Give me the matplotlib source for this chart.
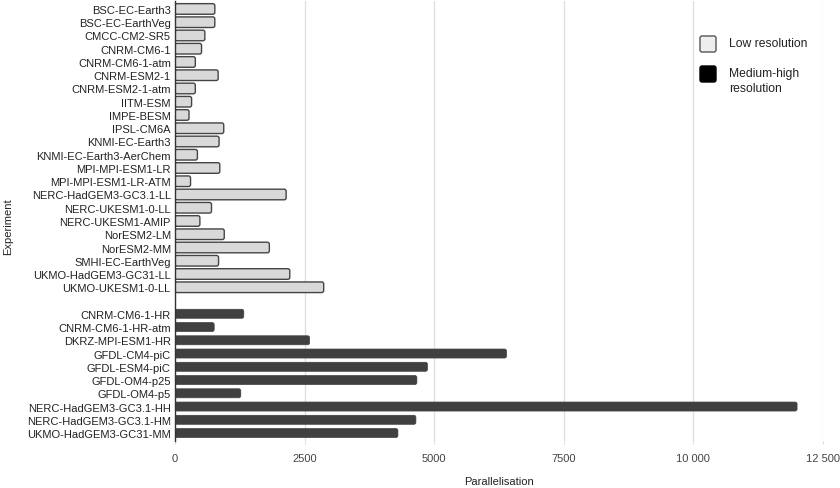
import matplotlib
matplotlib.use("Agg")
import matplotlib.pyplot as plt
from matplotlib.patches import FancyBboxPatch
from matplotlib.ticker import FixedLocator, FuncFormatter

plt.rcParams['font.family'] = ['Liberation Sans', 'DejaVu Sans']

low_names = ["BSC-EC-Earth3", "BSC-EC-EarthVeg", "CMCC-CM2-SR5", "CNRM-CM6-1",
             "CNRM-CM6-1-atm", "CNRM-ESM2-1", "CNRM-ESM2-1-atm", "IITM-ESM",
             "IMPE-BESM", "IPSL-CM6A", "KNMI-EC-Earth3", "KNMI-EC-Earth3-AerChem",
             "MPI-MPI-ESM1-LR", "MPI-MPI-ESM1-LR-ATM", "NERC-HadGEM3-GC3.1-LL",
             "NERC-UKESM1-0-LL", "NERC-UKESM1-AMIP", "NorESM2-LM", "NorESM2-MM",
             "SMHI-EC-EarthVeg", "UKMO-HadGEM3-GC31-LL", "UKMO-UKESM1-0-LL"]
low_values = [768, 768, 576, 512, 392, 832, 392, 320, 270, 940, 850, 432,
              864, 300, 2144, 704, 480, 950, 1820, 840, 2214, 2868]

high_names = ["CNRM-CM6-1-HR", "CNRM-CM6-1-HR-atm", "DKRZ-MPI-ESM1-HR",
              "GFDL-CM4-piC", "GFDL-ESM4-piC", "GFDL-OM4-p25", "GFDL-OM4-p5",
              "NERC-HadGEM3-GC3.1-HH", "NERC-HadGEM3-GC3.1-HM", "UKMO-HadGEM3-GC31-MM"]
high_values = [1327, 756, 2596, 6395, 4870, 4666, 1269, 12000, 4647, 4300]

x_ticks = [0, 2500, 5000, 7500, 10000, 12500]
legend_labels = ["Low resolution", "Medium-high\nresolution"]

W, H = 840, 489
fig = plt.figure(figsize=(W / 100, H / 100), dpi=100)
ax = fig.add_axes([175 / W, 1 - 442 / H, 648 / W, 440 / H])

low_pos = list(range(len(low_names)))
high_pos = [len(low_names) + 1 + i for i in range(len(high_names))]

low_bars = ax.barh(low_pos, low_values, height=0.8, color="#d9d9d9",
                   edgecolor="#444444", linewidth=1.0, zorder=3)
high_bars = ax.barh(high_pos, high_values, height=0.68, color="#404040",
                    edgecolor="#404040", linewidth=0.5, zorder=3)

ax.set_xlim(0, 12500)
ax.set_ylim(len(low_names) + len(high_names) + 0.6, -0.6)

# rounded corners
px_x = 12500 / 648.0
px_y = (len(low_names) + len(high_names) + 1.2) / 440.0
r = 2.0
for bars in (low_bars, high_bars):
    for rect in bars:
        x, y = rect.get_x(), rect.get_y()
        w, h = rect.get_width(), rect.get_height()
        p = FancyBboxPatch((x, y), w, h,
                           boxstyle="round,pad=0,rounding_size=%f" % (r * px_x),
                           mutation_aspect=px_y / px_x,
                           facecolor=rect.get_facecolor(),
                           edgecolor=rect.get_edgecolor(),
                           linewidth=rect.get_linewidth(), zorder=3)
        rect.set_visible(False)
        ax.add_patch(p)

ax.set_yticks(low_pos + high_pos)
ax.set_yticklabels(low_names + high_names, fontsize=8, color="#222222")
ax.tick_params(axis='y', length=0, pad=3)

ax.xaxis.set_major_locator(FixedLocator(x_ticks))
ax.xaxis.set_major_formatter(FuncFormatter(
    lambda v, p: ("%d" % v) if v < 10000 else ("{:,}".format(int(v)).replace(",", " "))))
ax.tick_params(axis='x', labelsize=8, labelcolor="#444444", length=2,
               color="#dddddd", pad=7)

ax.grid(axis='x', color="#dddddd", linewidth=0.9, zorder=0)
ax.set_axisbelow(True)
for s in ("top", "right", "bottom"):
    ax.spines[s].set_visible(False)
ax.spines["left"].set_color("#333333")
ax.spines["left"].set_linewidth(1)
ax.spines["left"].set_zorder(4)

ax.set_xlabel("Parallelisation", fontsize=8, color="#222222")
ax.xaxis.set_label_coords(0.5, (442 - 477) / 440.0)
ax.set_ylabel("Experiment", fontsize=8, color="#222222")
ax.yaxis.set_label_coords((13 - 175) / 648.0, 0.49)

# legend drawn manually in figure pixels
def fx(px):
    return px / W

def fy(py):
    return 1 - py / H

sq = [(700, 37), (700, 67)]
fcs = ["#eeeeee", "#000000"]
ecs = ["#555555", "#000000"]
for (sx, sy), fc, ec in zip(sq, fcs, ecs):
    fig.patches.append(FancyBboxPatch((fx(sx), fy(sy + 16)), fx(16), 16 / H,
                                      boxstyle="round,pad=0,rounding_size=0.0025",
                                      mutation_aspect=W / H,
                                      transform=fig.transFigure, figure=fig,
                                      facecolor=fc, edgecolor=ec, linewidth=1))
fig.text(fx(729), fy(44), legend_labels[0], fontsize=8.7, color="#222222",
         ha="left", va="center")
fig.text(fx(729), fy(68), legend_labels[1], fontsize=8.7, color="#222222",
         ha="left", va="top", linespacing=1.3)

fig.savefig("out.png", dpi=100)
